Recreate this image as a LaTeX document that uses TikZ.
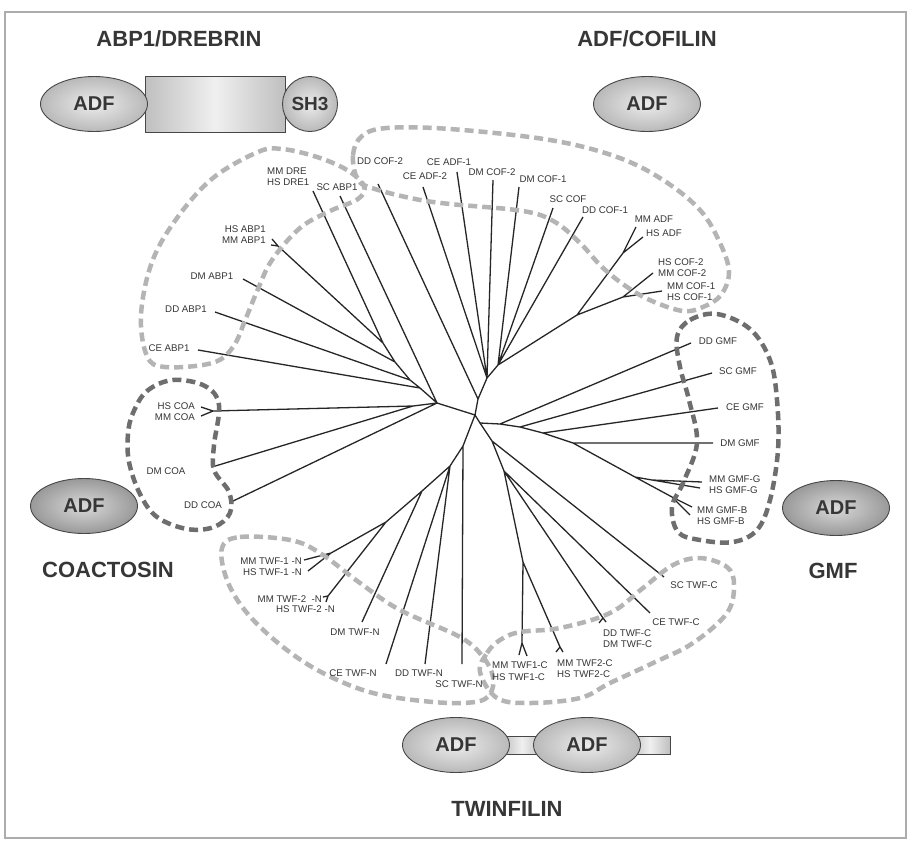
\documentclass[tikz,border=0pt]{standalone}
\usepackage{fontspec}
\setmainfont{Liberation Sans}
\usetikzlibrary{shapes.geometric}

\definecolor{txt}{HTML}{363636}
\definecolor{lbr}{HTML}{B4B4B4}
\definecolor{dbr}{HTML}{6E6E6E}
\definecolor{edge}{HTML}{262626}

\begin{document}
\begin{tikzpicture}[x=1pt,y=-1pt,
 ttl/.style={font=\bfseries\fontsize{22}{24}\selectfont,text=txt},
 lab/.style={font=\fontsize{9.7}{11.4}\selectfont,text=txt,inner sep=0pt},
 dom/.style={draw=edge!85,line width=0.9pt,ellipse,minimum width=107pt,minimum height=55pt,inner color=gray!15,outer color=gray!55,font=\bfseries\fontsize{20}{22}\selectfont,text=txt},
 domd/.style={dom,inner color=gray!30,outer color=gray!80},
 bar/.style={draw=edge!85,line width=0.9pt,left color=gray!50,right color=gray!50,middle color=gray!12},
 br/.style={draw=edge,line width=1.3pt,line join=round},
 olt/.style={draw=lbr,line width=4.5pt,dash pattern=on 9pt off 5pt},
 odk/.style={olt,draw=dbr}]
\useasboundingbox (0,0) rectangle (910,841);
\fill[white] (0,0) rectangle (910,841);
\draw[gray!65,line width=1.6pt] (5,12) rectangle (906,838);

\node[ttl] (tabp) at (179,39) {ABP1/DREBRIN};
\node[ttl] (tcof) at (647,39) {ADF/COFILIN};
\node[ttl] (tcoa) at (108,570) {COACTOSIN};
\node[ttl] (tgmf) at (833,571) {GMF};
\node[ttl] (ttwf) at (507,809) {TWINFILIN};

\node[bar,minimum width=140pt,minimum height=56pt] (abpbar) at (215,104) {};
\node[dom] (abpadf) at (94,104) {ADF};
\node[dom,circle,minimum size=55pt,font=\bfseries\fontsize{19}{21}\selectfont] (abpsh3) at (310,104) {SH3};
\node[dom] (cofadf) at (647,104) {ADF};
\node[domd] (coaadf) at (84,506) {ADF};
\node[domd] (gmfadf) at (836,508) {ADF};
\node[bar,minimum width=40pt,minimum height=18pt] (twfbar1) at (522,745.5) {};
\node[bar,minimum width=40pt,minimum height=18pt] (twfbar2) at (650,745.5) {};
\node[dom] (twfadf1) at (456,745) {ADF};
\node[dom] (twfadf2) at (587,745) {ADF};

\coordinate (c) at (475,415);
\coordinate (cl) at (437,403);
\coordinate (ct) at (478,399);
\coordinate (cr) at (480,423);
\coordinate (a1) at (383,343);
\coordinate (a2) at (395,362);
\coordinate (a3) at (410,380);
\coordinate (a4) at (420,388);
\coordinate (k) at (413,406);
\coordinate (f) at (487,378);
\coordinate (f2) at (498,365);
\coordinate (m) at (577,315);
\coordinate (mA) at (623,253);
\coordinate (mC) at (623,297);
\coordinate (g1) at (500,424);
\coordinate (g2) at (520,427);
\coordinate (g3) at (543,433);
\coordinate (g4) at (573,443);
\coordinate (g5) at (635,477);
\coordinate (gG) at (652,480);
\coordinate (gB) at (672,497);
\coordinate (tc0) at (492,441);
\coordinate (tc1) at (504,471);
\coordinate (tw12) at (523,562);
\coordinate (tn0) at (463,446);
\coordinate (tn1) at (450,466);
\coordinate (tn2) at (422,491);
\coordinate (tn3) at (386,522);
\coordinate (tn4) at (331,553);

\coordinate (eDre) at (313,191);
\coordinate (eScAbp) at (340,196);
\coordinate (eAbp) at (278,246);
\coordinate (eAbpA) at (272,239);
\coordinate (eAbpB) at (271,245);
\coordinate (eDmAbp) at (243,279);
\coordinate (eDdAbp) at (215,312);
\coordinate (eCeAbp) at (198,350);
\coordinate (eCoa) at (213,411);
\coordinate (eCoaA) at (201,407);
\coordinate (eCoaB) at (201,416);
\coordinate (eDmCoa) at (212,467);
\coordinate (eDdCoa) at (231,502);
\coordinate (eDdCof2) at (378,184);
\coordinate (eCeAdf2) at (423,187);
\coordinate (eCeAdf1) at (457,172);
\coordinate (eDmCof2) at (493,180);
\coordinate (eDmCof1) at (519,187);
\coordinate (eScCof) at (553,208);
\coordinate (eDdCof1) at (583,217);
\coordinate (eMmAdf) at (636,227);
\coordinate (eHsAdf) at (643,237);
\coordinate (eCof2) at (653,273);
\coordinate (eCof1) at (662,291);
\coordinate (eDdGmf) at (691,343);
\coordinate (eScGmf) at (712,373);
\coordinate (eCeGmf) at (718,408);
\coordinate (eDmGmf) at (713,443);
\coordinate (eMmGmfG) at (702,482);
\coordinate (eHsGmfG) at (700,488);
\coordinate (eMmGmfB) at (692,507);
\coordinate (eHsGmfB) at (690,515);
\coordinate (eScTwfc) at (664,577);
\coordinate (eCeTwfc) at (650,613);
\coordinate (eDdTwfc) at (603,618);
\coordinate (eDdTwfcA) at (599,623);
\coordinate (eDdTwfcB) at (606,622);
\coordinate (eTwf2c) at (560,647);
\coordinate (eTwf2cA) at (556,652);
\coordinate (eTwf2cB) at (563,652);
\coordinate (eTwf1c) at (522,643);
\coordinate (eTwf1cA) at (519,655);
\coordinate (eTwf1cB) at (527,656);
\coordinate (eScTwfn) at (462,664);
\coordinate (eDdTwfn) at (425,664);
\coordinate (eCeTwfn) at (386,664);
\coordinate (eDmTwfn) at (362,622);
\coordinate (eTwf2n) at (328,596);
\coordinate (eTwf2nA) at (323,597);
\coordinate (eTwf2nB) at (326,602);
\coordinate (eMmTwf1n) at (304,560);
\coordinate (eHsTwf1n) at (308,571);

\draw[br] (cl)--(c)--(cr) (ct)--(c)--(tn0);
\draw[br] (cl)--(a4)--(a3)--(a2)--(a1)--(eDre) (a1)--(eAbp)--(eAbpA) (eAbp)--(eAbpB) (a2)--(eDmAbp) (a3)--(eDdAbp) (a4)--(eCeAbp) (cl)--(eScAbp);
\draw[br] (cl)--(k)--(eCoa)--(eCoaA) (eCoa)--(eCoaB) (k)--(eDmCoa) (cl)--(eDdCoa);
\draw[br] (ct)--(eDdCof2) (ct)--(f)--(eCeAdf2) (f)--(eCeAdf1) (f)--(eDmCof2) (f)--(f2)--(eDmCof1) (f2)--(eScCof) (f2)--(eDdCof1) (f2)--(m)--(mA)--(eMmAdf) (mA)--(eHsAdf) (m)--(mC)--(eCof2) (mC)--(eCof1);
\draw[br] (cr)--(g1)--(g2)--(g3)--(g4)--(g5)--(gB)--(eMmGmfB) (gB)--(eHsGmfB) (g5)--(gG)--(eMmGmfG) (gG)--(eHsGmfG) (g1)--(eDdGmf) (g2)--(eScGmf) (g3)--(eCeGmf) (g4)--(eDmGmf);
\draw[br] (cr)--(tc0)--(eScTwfc) (tc0)--(tc1)--(eCeTwfc) (tc1)--(eDdTwfc)--(eDdTwfcA) (eDdTwfc)--(eDdTwfcB) (tc1)--(tw12)--(eTwf1c)--(eTwf1cA) (eTwf1c)--(eTwf1cB) (tw12)--(eTwf2c)--(eTwf2cA) (eTwf2c)--(eTwf2cB);
\draw[br] (tn0)--(eScTwfn) (tn0)--(tn1)--(eDdTwfn) (tn1)--(eCeTwfn) (tn1)--(tn2)--(eDmTwfn) (tn2)--(tn3)--(eTwf2n)--(eTwf2nA) (eTwf2n)--(eTwf2nB) (tn3)--(tn4)--(eMmTwf1n) (tn4)--(eHsTwf1n);

\draw[olt] plot[smooth cycle,tension=0.6] coordinates {(364,186) (347,170) (317,157) (282,149) (258,152) (213,178) (177,218) (152,262) (141,315) (147,356) (165,367) (212,363) (233,347) (246,318) (258,289) (272,260) (300,228) (330,211) (358,199)};
\draw[olt] plot[smooth cycle,tension=0.6] coordinates {(358,180) (353,155) (362,136) (387,128) (450,129) (550,140) (617,157) (663,180) (700,210) (720,243) (729,272) (721,295) (703,307) (683,311) (652,301) (627,287) (602,267) (581,244) (555,222) (523,211) (450,204) (415,199) (375,189)};
\draw[odk] plot[smooth cycle,tension=0.6] coordinates {(133,413) (147,391) (173,380) (205,386) (219,405) (214,445) (214,470) (229,492) (230,513) (214,527) (187,529) (157,517) (140,494) (129,462) (128,434)};
\draw[odk] plot[smooth cycle,tension=0.6] coordinates {(677,337) (690,320) (717,314) (750,329) (770,360) (777,400) (778,450) (770,500) (757,530) (733,542) (700,540) (678,532) (672,507) (683,483) (697,443) (689,400) (680,367)};
\draw[olt] plot[smooth cycle,tension=0.6] coordinates {(222,548) (240,537) (290,540) (320,553) (360,583) (400,610) (460,637) (483,657) (493,677) (490,694) (475,702) (433,702) (373,693) (323,673) (283,647) (247,613) (227,580)};
\draw[olt] plot[smooth cycle,tension=0.6] coordinates {(480,672) (487,653) (500,640) (520,632) (560,628) (610,613) (643,588) (673,565) (700,558) (727,567) (734,585) (727,613) (693,643) (653,663) (610,683) (580,698) (530,703) (497,698)};

\node[lab,anchor=west,align=left] (lDre) at (267,177) {MM DRE\\HS DRE1};
\node[lab] (lScAbp) at (337,187) {SC ABP1};
\node[lab,anchor=east,align=right] (lAbp) at (266,234.5) {HS ABP1\\MM ABP1};
\node[lab] (lDmAbp) at (212,276) {DM ABP1};
\node[lab] (lDdAbp) at (186,309) {DD ABP1};
\node[lab] (lCeAbp) at (169,348) {CE ABP1};
\node[lab,anchor=east,align=right] (lCoa) at (195,411.5) {HS COA\\MM COA};
\node[lab] (lDmCoa) at (166,471) {DM COA};
\node[lab] (lDdCoa) at (203,505) {DD COA};
\node[lab] (lDdCof2) at (380,161) {DD COF-2};
\node[lab] (lCeAdf2) at (425,176) {CE ADF-2};
\node[lab] (lCeAdf1) at (449,162) {CE ADF-1};
\node[lab] (lDmCof2) at (492,172) {DM COF-2};
\node[lab] (lDmCof1) at (543,179) {DM COF-1};
\node[lab] (lScCof) at (568,199) {SC COF};
\node[lab] (lDdCof1) at (605,210) {DD COF-1};
\node[lab] (lMmAdf) at (654,219) {MM ADF};
\node[lab] (lHsAdf) at (664,233) {HS ADF};
\node[lab,anchor=west,align=left] (lCof2) at (658,267.5) {HS COF-2\\MM COF-2};
\node[lab,anchor=west,align=left] (lCof1) at (667,291.5) {MM COF-1\\HS COF-1};
\node[lab] (lDdGmf) at (718,341) {DD GMF};
\node[lab] (lScGmf) at (738,371) {SC GMF};
\node[lab] (lCeGmf) at (745,407) {CE GMF};
\node[lab] (lDmGmf) at (740,443) {DM GMF};
\node[lab,anchor=west,align=left] (lGmfG) at (709,484.5) {MM GMF-G\\HS GMF-G};
\node[lab,anchor=west,align=left] (lGmfB) at (697,515.5) {MM GMF-B\\HS GMF-B};
\node[lab] (lScTwfc) at (694,585) {SC TWF-C};
\node[lab] (lCeTwfc) at (676,622) {CE TWF-C};
\node[lab,anchor=west,align=left] (lDdTwfc) at (603,638.5) {DD TWF-C\\DM TWF-C};
\node[lab,anchor=west,align=left] (lTwf2c) at (557,668.5) {MM TWF2-C\\HS TWF2-C};
\node[lab,anchor=west,align=left] (lTwf1c) at (492,671) {MM TWF1-C\\HS TWF1-C};
\node[lab] (lScTwfn) at (459,684) {SC TWF-N};
\node[lab] (lDdTwfn) at (419,673) {DD TWF-N};
\node[lab] (lCeTwfn) at (353,673) {CE TWF-N};
\node[lab] (lDmTwfn) at (355,632) {DM TWF-N};
\node[lab,anchor=east] (lMmTwf2n) at (322,599) {MM TWF-2~ -N};
\node[lab,anchor=east] (lHsTwf2n) at (335,609) {HS TWF-2 -N};
\node[lab,anchor=east,align=right] (lTwf1n) at (302,567) {MM TWF-1 -N\\HS TWF-1 -N};
\end{tikzpicture}
\end{document}
